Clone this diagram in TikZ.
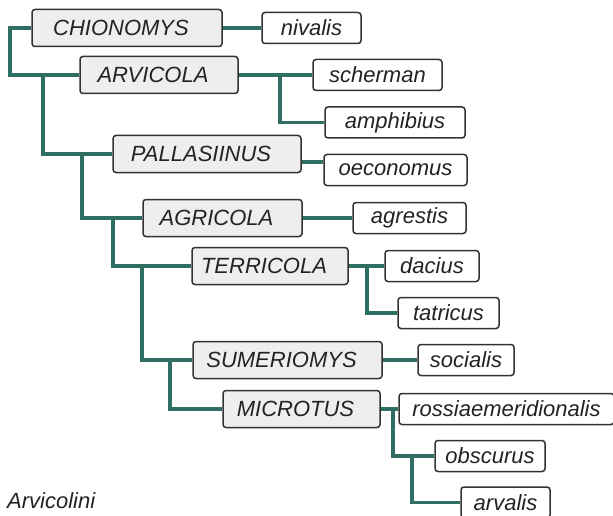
\documentclass[tikz,border=0pt]{standalone}
\usepackage{fontspec}
\setmainfont{Liberation Sans}
\usetikzlibrary{positioning,backgrounds}
\definecolor{cladegreen}{RGB}{47,110,99}
\definecolor{boxgray}{RGB}{238,238,238}
\definecolor{boxline}{RGB}{50,50,50}
\definecolor{labeltext}{RGB}{35,35,35}
\tikzset{genus/.style={draw=boxline,fill=boxgray,text=labeltext,line width=1.5pt,rounded corners=3pt,minimum height=37pt,inner sep=0pt,font=\fontsize{22}{26}\selectfont\itshape,execute at end node={\hspace*{12pt}}}}
\tikzset{species/.style={draw=boxline,fill=white,text=labeltext,line width=1.5pt,rounded corners=3pt,minimum height=31pt,inner sep=0pt,font=\fontsize{22}{26}\selectfont\itshape}}
\tikzset{link/.style={draw=cladegreen,line width=3.8pt}}

\begin{document}
\begin{tikzpicture}[x=1pt,y=-1pt]
	\useasboundingbox (0,0) rectangle (613,516);
	
	% genera
	\node[genus,minimum width=190pt] (chio) at (127,28) {CHIONOMYS};
	\node[genus,minimum width=158pt] (arvi) at (159,75) {ARVICOLA};
	\node[genus,minimum width=188pt] (pall) at (207,154) {PALLASIINUS};
	\node[genus,minimum width=159pt] (agri) at (222.5,218) {AGRICOLA};
	\node[genus,minimum width=156pt] (terr) at (270,266) {TERRICOLA};
	\node[genus,minimum width=189pt] (sume) at (287.5,360) {SUMERIOMYS};
	\node[genus,minimum width=157pt] (micr) at (301.5,409) {MICROTUS};
	
	% species
	\node[species,minimum width=99pt] (niva) at (311.5,28) {nivalis};
	\node[species,minimum width=129pt] (sche) at (377.5,75) {scherman};
	\node[species,minimum width=140pt] (amph) at (395,122.5) {amphibius};
	\node[species,minimum width=143pt] (oeco) at (395.5,170) {oeconomus};
	\node[species,minimum width=113pt] (agre) at (409.5,218) {agrestis};
	\node[species,minimum width=94pt] (daci) at (432,266) {dacius};
	\node[species,minimum width=101pt] (tatr) at (448.5,313) {tatricus};
	\node[species,minimum width=96pt] (soci) at (466,360) {socialis};
	\node[species,minimum width=215pt] (ross) at (506.5,409) {rossiaemeridionalis};
	\node[species,minimum width=110pt] (obsc) at (490,456) {obscurus};
	\node[species,minimum width=89pt] (arva) at (505.5,502.5) {arvalis};
	
	\node[anchor=west,inner sep=0pt,text=labeltext,font=\fontsize{22}{26}\selectfont\itshape] (tribe) at (7,501) {Arvicolini};
	
	\coordinate (k1) at (10,0);
	\coordinate (k2) at (43,0);
	\coordinate (k3) at (82,0);
	\coordinate (k4) at (113,0);
	\coordinate (k5) at (142,0);
	\coordinate (k6) at (170,0);
	\coordinate (s1) at (280,0);
	\coordinate (s2) at (367,0);
	\coordinate (s3) at (393,0);
	\coordinate (s4) at (412,0);
	\coordinate (pj) at ([yshift=-8pt]pall.east);
	
	\begin{scope}[on background layer]
		\draw[link] (chio.west) -| (k1 |- arvi.west) -- (arvi.west);
		\draw[link] (k2 |- arvi.west) |- (pall.west);
		\draw[link] (k3 |- pall.west) |- (agri.west);
		\draw[link] (k4 |- agri.west) |- (terr.west);
		\draw[link] (k5 |- terr.west) |- (sume.west);
		\draw[link] (k6 |- sume.west) |- (micr.west);
		
		\draw[link] (chio.east) -- (niva.west);
		\draw[link] (arvi.east) -- (sche.west);
		\draw[link] (s1 |- sche.west) |- (amph.west);
		\draw[link] (pj) -- (pj -| oeco.west);
		\draw[link] (agri.east) -- (agre.west);
		\draw[link] (terr.east) -- (daci.west);
		\draw[link] (s2 |- daci.west) |- (tatr.west);
		\draw[link] (sume.east) -- (soci.west);
		\draw[link] (micr.east) -- (ross.west);
		\draw[link] (s3 |- ross.west) |- (obsc.west);
		\draw[link] (s4 |- obsc.west) |- (arva.west);
	\end{scope}
\end{tikzpicture}
\end{document}
